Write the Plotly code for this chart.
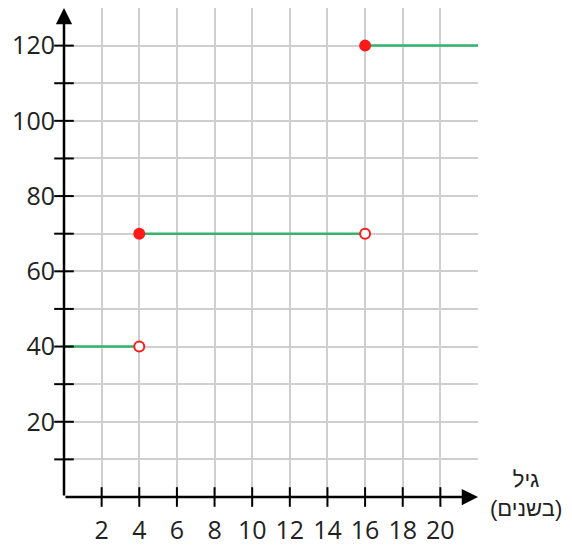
import plotly.graph_objects as go

# Data
seg_x_start = [0, 4, 16]
seg_x_end = [4, 16, 22]
seg_y = [40, 70, 120]
closed_x = [4, 16]
closed_y = [70, 120]
open_x = [4, 16]
open_y = [40, 70]

x_ticks = list(range(0, 23, 2))
x_ticktext = ["" if v in (0, 22) else str(v) for v in x_ticks]
y_ticks = list(range(0, 131, 10))
y_ticktext = [str(v) if (v % 20 == 0 and 0 < v <= 120) else "" for v in y_ticks]

GREEN = "#33b36b"
RED = "#ff1a1a"
GRID = "#cfcfcf"
FONT = "Open Sans"

fig = go.Figure()

# step segments
for xs, xe, y in zip(seg_x_start, seg_x_end, seg_y):
    fig.add_trace(go.Scatter(x=[xs, xe], y=[y, y], mode="lines",
                             line=dict(color=GREEN, width=2.5),
                             hoverinfo="skip", showlegend=False, cliponaxis=False))

# tick marks crossing axes
xt = [v for v in x_ticks if 0 < v < 22]
fig.add_trace(go.Scatter(x=xt, y=[0] * len(xt), mode="markers",
                         marker=dict(symbol="line-ns", size=14,
                                     line=dict(color="black", width=2)),
                         hoverinfo="skip", showlegend=False, cliponaxis=False))
yt = [v for v in y_ticks if 0 < v < 130]
fig.add_trace(go.Scatter(x=[0] * len(yt), y=yt, mode="markers",
                         marker=dict(symbol="line-ew", size=14,
                                     line=dict(color="black", width=2)),
                         hoverinfo="skip", showlegend=False, cliponaxis=False))

# points
fig.add_trace(go.Scatter(x=closed_x, y=closed_y, mode="markers",
                         marker=dict(color=RED, size=12, line=dict(color=RED, width=0)),
                         showlegend=False, cliponaxis=False))
fig.add_trace(go.Scatter(x=open_x, y=open_y, mode="markers",
                         marker=dict(color="white", size=10, line=dict(color=RED, width=2)),
                         showlegend=False, cliponaxis=False))

# axes with arrows
fig.add_annotation(x=0, y=130, ax=0, ay=0, xref="x", yref="y", axref="x", ayref="y",
                   showarrow=True, arrowhead=2, arrowsize=1.3, arrowwidth=2.5,
                   arrowcolor="black", text="")
fig.add_annotation(x=22, y=0, ax=0, ay=0, xref="x", yref="y", axref="x", ayref="y",
                   showarrow=True, arrowhead=2, arrowsize=1.3, arrowwidth=2.5,
                   arrowcolor="black", text="")

# axis title
fig.add_annotation(x=1.0, y=0, xref="paper", yref="paper", xanchor="left", yanchor="middle",
                   xshift=10, yshift=3, showarrow=False,
                   text="גיל<br>(בשנים)", align="center",
                   font=dict(family="Liberation Sans", size=22, color="#222222"))

fig.update_xaxes(range=[0, 22], tickvals=x_ticks, ticktext=x_ticktext,
                 showgrid=True, gridcolor=GRID, gridwidth=1.5,
                 zeroline=False, showline=False, ticks="", automargin=False,
                 ticklabelstandoff=16,
                 tickfont=dict(family=FONT, size=25, color="#222222"))
fig.update_yaxes(range=[0, 130], tickvals=y_ticks, ticktext=y_ticktext,
                 showgrid=True, gridcolor=GRID, gridwidth=1.5,
                 zeroline=False, showline=False, ticks="", automargin=False,
                 ticklabelstandoff=8,
                 tickfont=dict(family=FONT, size=25, color="#222222"))

fig.update_layout(width=572, height=545,
                  margin=dict(l=56, r=102, t=0, b=56),
                  plot_bgcolor="white", paper_bgcolor="white")

fig.write_html("out.html")
